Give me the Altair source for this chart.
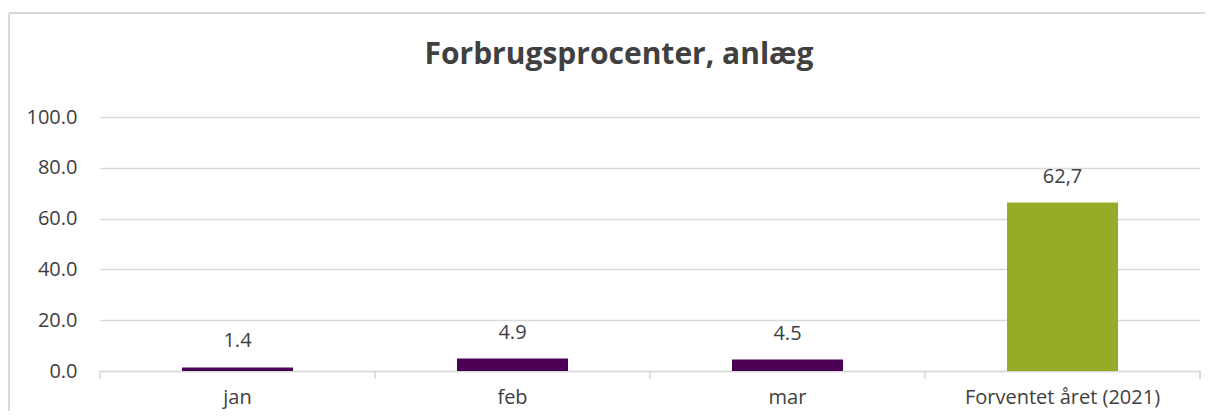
import altair as alt
import pandas as pd

title_text = "Forbrugsprocenter, anlæg"
categories = ["jan", "feb", "mar", "Forventet året (2021)"]
values = [1.4, 4.9, 4.5, 66.3]
labels = ["1.4", "4.9", "4.5", "62,7"]
groups = ["Måned", "Måned", "Måned", "Forventet"]
y_ticks = [0, 20, 40, 60, 80, 100]

df = pd.DataFrame({"cat": categories, "val": values, "label": labels, "grp": groups})

W, H = 1100, 254
FONT = "Open Sans"
GRID = "#d9d9d9"
TXT = "#404040"

xenc = alt.X(
    "cat:N", sort=categories,
    scale=alt.Scale(paddingInner=0, paddingOuter=0),
    axis=alt.Axis(title=None, ticks=False, domain=True, domainColor=GRID, domainWidth=1.5,
                  labelPadding=16, labelFontSize=20, labelColor=TXT, labelAngle=0,
                  labelAlign="center", labelBaseline="top",
                  labelFont=FONT, labelLimit=0, grid=False),
)
yenc = alt.Y(
    "val:Q", scale=alt.Scale(domain=[0, 100], nice=False),
    axis=alt.Axis(title=None, values=y_ticks, format=".1f", grid=True, gridColor=GRID,
                  gridWidth=1.5, domain=False, ticks=False, labelPadding=23,
                  labelFontSize=20, labelColor=TXT, labelFont=FONT),
)

base = alt.Chart(df)

bars = base.mark_bar(size=111).encode(
    x=xenc, y=yenc,
    color=alt.Color("grp:N", scale=alt.Scale(domain=["Måned", "Forventet"],
                                              range=["#4b0055", "#96ab28"]), legend=None),
)

text = base.mark_text(baseline="bottom", dy=-16, fontSize=20, font=FONT, color=TXT).encode(
    x=alt.X("cat:N", sort=categories), y="val:Q", text="label:N"
)

ticks = base.mark_rule(color=GRID, strokeWidth=1.5).encode(
    x=alt.X("cat:N", sort=categories, bandPosition=0), y=alt.value(H), y2=alt.value(H + 8)
)
last_tick = base.mark_rule(color=GRID, strokeWidth=1.5).encode(
    x=alt.value(W), y=alt.value(H), y2=alt.value(H + 8)
)

title = alt.Chart(pd.DataFrame({"t": [title_text]})).mark_text(
    fontSize=30, fontWeight="bold", font=FONT, color=TXT, baseline="middle", align="center"
).encode(text="t:N", x=alt.value(519), y=alt.value(-62))

frame_left = alt.Chart(pd.DataFrame({"a": [0]})).mark_rule(color=GRID, strokeWidth=2).encode(
    x=alt.value(-91), y=alt.value(-104), y2=alt.value(H + 50)
)
frame_top = alt.Chart(pd.DataFrame({"a": [0]})).mark_rule(color=GRID, strokeWidth=2).encode(
    x=alt.value(-91), x2=alt.value(W + 10), y=alt.value(-104)
)

chart = alt.layer(frame_left, frame_top, ticks, last_tick, bars, text, title).properties(
    width=W, height=H,
    autosize=alt.AutoSizeParams(type="none"),
    padding={"left": 92, "top": 109, "right": 5, "bottom": 40},
).configure_view(stroke=None)

chart.save("out.html", embed_options={"renderer": "svg", "actions": False})
